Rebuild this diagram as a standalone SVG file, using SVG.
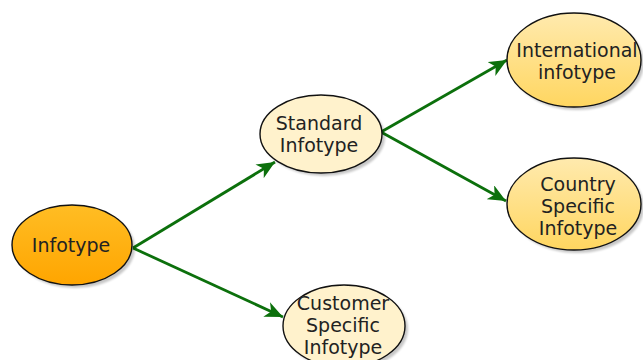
<svg xmlns="http://www.w3.org/2000/svg" width="643" height="360" viewBox="0 0 643 360">
<defs>
<linearGradient id="gOrange" x1="0" y1="0" x2="0" y2="1">
<stop offset="0" stop-color="#FFBD24"/>
<stop offset="1" stop-color="#FFA500"/>
</linearGradient>
<linearGradient id="gYellow" x1="0" y1="0" x2="0" y2="1">
<stop offset="0" stop-color="#FFEAAE"/>
<stop offset="1" stop-color="#FFD660"/>
</linearGradient>
<marker id="arr" viewBox="0 0 19 16" markerWidth="19" markerHeight="16" refX="18" refY="8" orient="auto" markerUnits="userSpaceOnUse">
<path d="M0,0 L18,8 L0,16 L5,8 Z" fill="#0c700c"/>
</marker>
<filter id="blur" x="-10%" y="-10%" width="130%" height="130%"><feGaussianBlur stdDeviation="1.2"/></filter>
</defs>
<style>
.sh{fill:#000;opacity:0.22;filter:url(#blur)}
.n{stroke:#111;stroke-width:1.4}
.cream{fill:#FFF2CC}
.t{font-family:"DejaVu Sans",Verdana,sans-serif;font-size:19px;fill:#222;text-anchor:middle}
.c{stroke:#0c700c;stroke-width:2.8;fill:none;marker-end:url(#arr)}
</style>
<rect width="643" height="360" fill="#fff"/>
<g id="connectors">
<line class="c" x1="133" y1="248" x2="275" y2="162"/>
<line class="c" x1="133" y1="248" x2="283" y2="317"/>
<line class="c" x1="381" y1="132" x2="507" y2="60"/>
<line class="c" x1="381" y1="132" x2="506" y2="201"/>
</g>
<g id="node-infotype">
<ellipse class="sh" cx="75" cy="248" rx="60" ry="40"/>
<ellipse class="n" cx="72" cy="245" rx="60" ry="40" fill="url(#gOrange)"/>
<text class="t" x="71" y="252">Infotype</text>
</g>
<g id="node-standard">
<ellipse class="sh" cx="324" cy="137" rx="61" ry="39"/>
<ellipse class="n cream" cx="321" cy="134" rx="61" ry="39"/>
<text class="t" x="319" y="130">Standard</text>
<text class="t" x="319" y="152">Infotype</text>
</g>
<g id="node-international">
<ellipse class="sh" cx="577" cy="63" rx="67" ry="47"/>
<ellipse class="n" cx="574" cy="60" rx="67" ry="47" fill="url(#gYellow)"/>
<text class="t" x="577" y="57">International</text>
<text class="t" x="577" y="79">infotype</text>
</g>
<g id="node-country">
<ellipse class="sh" cx="577" cy="207" rx="67" ry="46"/>
<ellipse class="n" cx="574" cy="204" rx="67" ry="46" fill="url(#gYellow)"/>
<text class="t" x="578" y="191">Country</text>
<text class="t" x="578" y="213">Specific</text>
<text class="t" x="578" y="235">Infotype</text>
</g>
<g id="node-customer">
<ellipse class="sh" cx="347" cy="329" rx="61" ry="41"/>
<ellipse class="n cream" cx="344" cy="326" rx="61" ry="41"/>
<text class="t" x="343" y="310">Customer</text>
<text class="t" x="343" y="332">Specific</text>
<text class="t" x="343" y="354">Infotype</text>
</g>
</svg>
